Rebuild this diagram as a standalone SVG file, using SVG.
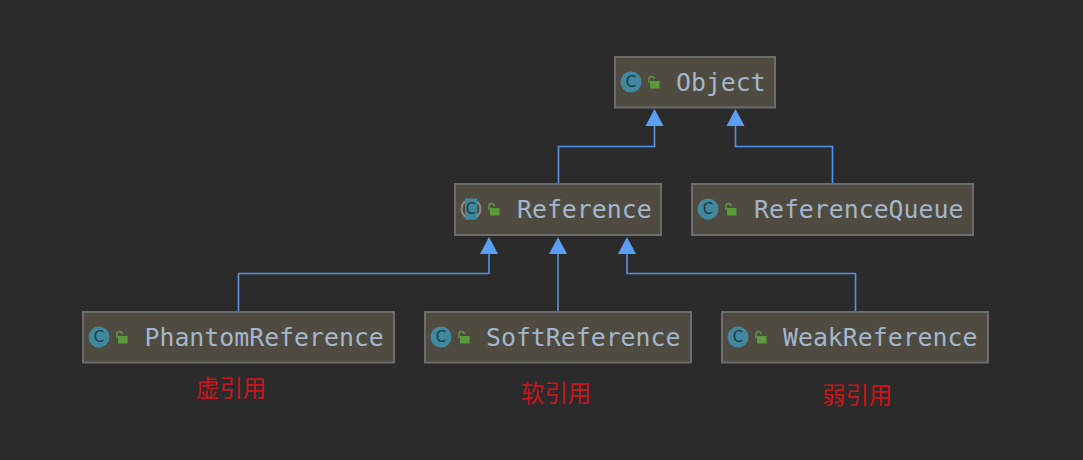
<svg xmlns="http://www.w3.org/2000/svg" xmlns:xlink="http://www.w3.org/1999/xlink" width="1083" height="460" viewBox="0 0 1083 460">
<style>
.box{fill:#4f4b41;stroke:#6c6c6c;stroke-width:2}
.name{font-family:"DejaVu Sans Mono",monospace;font-size:24.850px;fill:#a3b6cb}
.ic{fill:#41889f}
.c{font-family:"DejaVu Sans",sans-serif;font-size:15px;fill:#1f3b47;text-anchor:middle}
.lb{fill:#5b9a3c}
.sh{fill:none;stroke:#5b9a3c;stroke-width:1.5}
.edge{fill:none;stroke:#4f94e8;stroke-width:1.6}
.tri{fill:#5a9ff5}
.zh{font-family:"Noto Sans CJK SC","Liberation Serif",sans-serif;font-size:23.400px;fill:#c8161e}
</style>
<defs>
<g id="icon">
<circle class="ic" cx="0" cy="0" r="10.5"/>
<text class="c" x="0" y="5">C</text>
<rect class="lb" x="19" y="-1" width="9.500" height="7.500"/>
<path class="sh" d="M18 1V-3a2.500 2.500 0 0 1 5 0"/>
</g>
<polygon id="arrow" class="tri" points="0,0 -9,17 9,17"/>
</defs>
<rect width="1083" height="460" fill="#2b2b2b"/>
<g id="connectors">
<path class="edge" d="M558.500 184V146.500H654.500V125"/>
<path class="edge" d="M832.500 184V146.500H735.500V125"/>
<path class="edge" d="M238.500 312V273.500H489V253"/>
<path class="edge" d="M558 312V253"/>
<path class="edge" d="M855.500 312V273.500H627V253"/>
<use xlink:href="#arrow" href="#arrow" x="654.500" y="109"/>
<use xlink:href="#arrow" href="#arrow" x="735.500" y="109"/>
<use xlink:href="#arrow" href="#arrow" x="489" y="237"/>
<use xlink:href="#arrow" href="#arrow" x="558" y="237"/>
<use xlink:href="#arrow" href="#arrow" x="627" y="237"/>
</g>
<g id="object">
<rect class="box" x="615" y="57" width="160" height="50.500"/>
<use xlink:href="#icon" href="#icon" x="631" y="82"/>
<text class="name" x="676" y="91">Object</text>
</g>
<g id="reference">
<rect class="box" x="455" y="184" width="206" height="51"/>
<circle cx="471" cy="209" r="10.500" fill="#8a8a8a"/>
<circle cx="471" cy="209" r="8.500" fill="#4f4b41"/>
<rect class="ic" x="465" y="198.500" width="12" height="21"/>
<text class="c" x="471" y="214">C</text>
<rect class="lb" x="490" y="208" width="9.500" height="7.500"/>
<path class="sh" d="M489 210V206a2.500 2.500 0 0 1 5 0"/>
<text class="name" x="517" y="218">Reference</text>
</g>
<g id="referencequeue">
<rect class="box" x="692" y="184" width="281" height="51"/>
<use xlink:href="#icon" href="#icon" x="708" y="209"/>
<text class="name" x="754" y="218">ReferenceQueue</text>
</g>
<g id="phantomreference">
<rect class="box" x="83" y="312" width="311" height="50.500"/>
<use xlink:href="#icon" href="#icon" x="99" y="337"/>
<text class="name" x="144.500" y="346">PhantomReference</text>
</g>
<g id="softreference">
<rect class="box" x="425" y="312" width="266" height="50.500"/>
<use xlink:href="#icon" href="#icon" x="441" y="337"/>
<text class="name" x="486" y="346">SoftReference</text>
</g>
<g id="weakreference">
<rect class="box" x="722" y="312" width="266" height="50.500"/>
<use xlink:href="#icon" href="#icon" x="738" y="337"/>
<text class="name" x="783" y="346">WeakReference</text>
</g>
<text class="zh" x="196" y="397">虚引用</text>
<text class="zh" x="521" y="402">软引用</text>
<text class="zh" x="822" y="404">弱引用</text>
</svg>
